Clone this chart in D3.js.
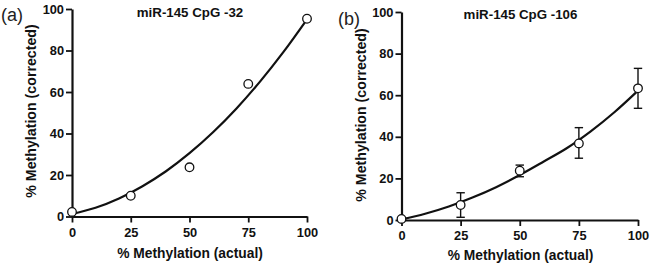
<!DOCTYPE html>
<html>
<head>
<meta charset="utf-8">
<script src="https://cdn.jsdelivr.net/npm/d3@7"></script>
<style>
  html, body { margin: 0; padding: 0; background: #fff; }
  svg { display: block; font-family: "Liberation Sans", Arial, sans-serif; }
</style>
</head>
<body>
<svg id="chart" width="651" height="267"></svg>
<script>
// ---- data ----
const xTicks = [0, 25, 50, 75, 100];
const yTicks = [0, 20, 40, 60, 80, 100];

const actualA = [0, 25, 50, 75, 100];
const correctedA = [2.2, 10, 23.7, 63.9, 95.3];

const actualB = [0, 25, 50, 75, 100];
const correctedB = [0.5, 7.2, 23.7, 36.8, 63.3];
const lowB = [null, 1.3, 20.8, 29.7, 53.7];
const highB = [null, 13.1, 26.4, 44.4, 72.9];

const fitX = [0, 10, 20, 30, 40, 50, 60, 70, 80, 90, 100];
const fitA = [1.2, 4.2, 8.7, 14.6, 21.8, 30.5, 40.6, 52.1, 65.0, 79.3, 95.0];
const fitB = [0.3, 3.0, 6.5, 10.8, 15.8, 21.6, 28.0, 34.6, 42.6, 51.8, 62.2];

const panels = [
  { tag: "(a)", title: "miR-145 CpG -32", xs: actualA, ys: correctedA, lo: null, hi: null, fit: fitA,
    xr: [72, 307], yr: [216.5, 9], tagX: 1, tagY: 21, titleX: 190, titleY: 16.5,
    ylabX: 36, ylabY: 111, xlabX: 190, xlabY: 258 },
  { tag: "(b)", title: "miR-145 CpG -106", xs: actualB, ys: correctedB, lo: lowB, hi: highB, fit: fitB,
    xr: [401.5, 638], yr: [220, 12], tagX: 338, tagY: 24.5, titleX: 520.5, titleY: 18.5,
    ylabX: 365.5, ylabY: 115, xlabX: 520.5, xlabY: 260 }
];

const svg = d3.select("#chart");
const ink = "#111";

panels.forEach(p => {
  const x = d3.scaleLinear().domain([0, 100]).range(p.xr);
  const y = d3.scaleLinear().domain([0, 100]).range(p.yr);
  const g = svg.append("g");

  // axes
  const xAxis = d3.axisBottom(x).tickValues(xTicks).tickSize(6).tickPadding(5).tickSizeOuter(0);
  const yAxis = d3.axisLeft(y).tickValues(yTicks).tickSize(6).tickPadding(2).tickSizeOuter(0);

  const gx = g.append("g").attr("transform", `translate(0,${p.yr[0]})`).call(xAxis);
  const gy = g.append("g").attr("transform", `translate(${p.xr[0]},0)`).call(yAxis);
  [gx, gy].forEach(a => {
    a.select(".domain").attr("stroke", ink).attr("stroke-width", 2.2);
    a.selectAll(".tick line").attr("stroke", ink).attr("stroke-width", 1.8);
    a.selectAll(".tick text").attr("fill", ink).attr("font-size", "12.8px").attr("font-weight", "bold")
      .attr("font-family", "'Liberation Sans', Arial, sans-serif");
  });
  gx.selectAll(".tick text").attr("dy", "0.71em");

  // fit curve
  const line = d3.line().x(d => x(d[0])).y(d => y(d[1])).curve(d3.curveCatmullRom);
  g.append("path")
    .datum(fitX.map((v, i) => [v, p.fit[i]]))
    .attr("d", line)
    .attr("fill", "none").attr("stroke", ink).attr("stroke-width", 2.2);

  // error bars
  if (p.lo) {
    p.xs.forEach((v, i) => {
      if (p.lo[i] == null) return;
      const cx = x(v);
      g.append("line").attr("x1", cx).attr("x2", cx).attr("y1", y(p.lo[i])).attr("y2", y(p.hi[i]))
        .attr("stroke", ink).attr("stroke-width", 1.4);
      [p.lo[i], p.hi[i]].forEach(e => {
        g.append("line").attr("x1", cx - 4.2).attr("x2", cx + 4.2).attr("y1", y(e)).attr("y2", y(e))
          .attr("stroke", ink).attr("stroke-width", 1.4);
      });
    });
  }

  // points
  g.selectAll("circle.pt").data(p.xs.map((v, i) => [v, p.ys[i]])).enter()
    .append("circle").attr("class", "pt")
    .attr("cx", d => x(d[0])).attr("cy", d => y(d[1])).attr("r", 4.3)
    .attr("fill", "#fff").attr("stroke", ink).attr("stroke-width", 1.3);

  // texts
  g.append("text").attr("x", p.tagX).attr("y", p.tagY).text(p.tag)
    .attr("font-size", "18px").attr("fill", "#222");
  g.append("text").attr("x", p.titleX).attr("y", p.titleY).text(p.title)
    .attr("text-anchor", "middle").attr("font-size", "13.3px").attr("font-weight", "bold").attr("fill", ink);
  g.append("text").attr("transform", `translate(${p.ylabX},${p.ylabY}) rotate(-90)`)
    .attr("text-anchor", "middle").text("% Methylation (corrected)")
    .attr("font-size", "14.2px").attr("font-weight", "bold").attr("fill", ink);
  g.append("text").attr("x", p.xlabX).attr("y", p.xlabY).text("% Methylation (actual)")
    .attr("text-anchor", "middle").attr("font-size", "13.8px").attr("font-weight", "bold").attr("fill", ink);
});
</script>
</body>
</html>
